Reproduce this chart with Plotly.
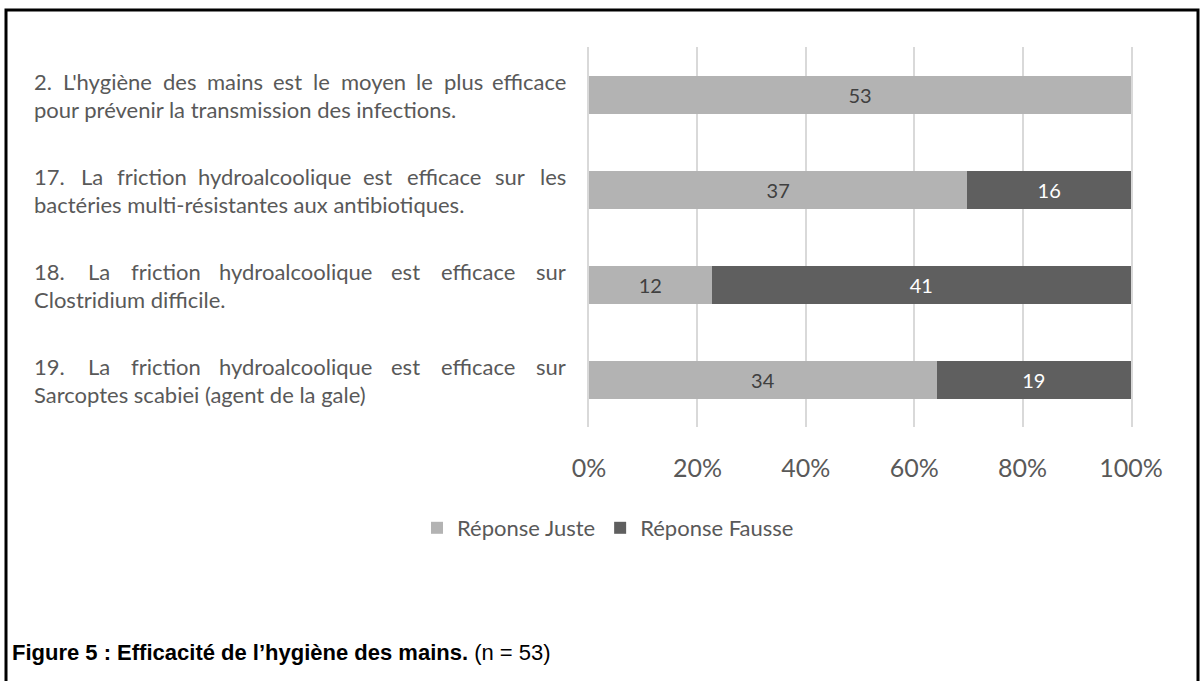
import plotly.graph_objects as go

# ---- data ----
cat_ids = ["Q2", "Q17", "Q18", "Q19"]
label_line1 = [
    "2. L'hygiène des mains est le moyen le plus efficace",
    "17. La friction hydroalcoolique est efficace sur les",
    "18. La friction hydroalcoolique est efficace sur",
    "19. La friction hydroalcoolique est efficace sur",
]
label_line2 = [
    "pour prévenir la transmission des infections.",
    "bactéries multi-résistantes aux antibiotiques.",
    "Clostridium difficile.",
    "Sarcoptes scabiei (agent de la gale)",
]
juste = [53, 37, 12, 34]
fausse = [0, 16, 41, 19]
series_names = ["Réponse Juste", "Réponse Fausse"]
tick_vals = [0, 20, 40, 60, 80, 100]
tick_text = ["0%", "20%", "40%", "60%", "80%", "100%"]
caption_bold = "Figure 5 : Efficacité de l\u2019hygiène des mains."
caption_rest = " (n = 53)"

# ---- layout constants ----
W, H = 1201, 681
ML, MR, MT, MB = 589, 70, 47, 254
PW = W - ML - MR
PH = H - MT - MB
FONT = "Lato, 'Open Sans', sans-serif"
TXT = "#595959"
LABEL_SIZE = 22


def px_to_paper_x(px):
    return (px - ML) / PW


def py_to_paper_y(py):
    return (H - MB - py) / PH


# approximate glyph widths (em) for justification
CW = {
    "i": 0.23, "l": 0.23, "j": 0.23, "'": 0.18, ".": 0.22, ",": 0.22,
    "f": 0.31, "t": 0.33, "r": 0.35, "s": 0.41, "c": 0.45, "e": 0.5,
    "è": 0.5, "é": 0.5, "a": 0.49, "m": 0.8, "w": 0.74, "y": 0.48,
    "v": 0.48, "x": 0.47, "z": 0.44, "(": 0.3, ")": 0.3, "-": 0.34,
    "L": 0.49, "S": 0.51, "C": 0.63,
}


def word_w(w):
    tot = 0
    for ch in w:
        if ch in CW:
            tot += CW[ch]
        elif ch.isdigit():
            tot += 0.58
        elif ch.isupper():
            tot += 0.62
        else:
            tot += 0.53
    return tot * LABEL_SIZE


fig = go.Figure()
colors = ["#b3b3b3", "#5f5f5f"]
text_colors = ["#404040", "#ffffff"]
for name, vals, col, tcol in zip(series_names, [juste, fausse], colors, text_colors):
    fig.add_trace(go.Bar(
        y=cat_ids, x=vals, name=name, orientation="h",
        marker=dict(color=col, line=dict(width=0)),
        text=[str(v) if v else "" for v in vals],
        textposition="inside", insidetextanchor="middle",
        textfont=dict(family=FONT, size=20, color=tcol),
        hoverinfo="skip",
    ))

annotations = []
LEFT, RIGHT = 34, 566
for cid, l1, l2 in zip(cat_ids, label_line1, label_line2):
    words = l1.split(" ")
    widths = [word_w(w) for w in words]
    gap = (RIGHT - LEFT - sum(widths)) / (len(words) - 1)
    pos = LEFT
    for k, (w, ww) in enumerate(zip(words, widths)):
        if k == 0:
            x, anc = pos, "left"
        elif k == len(words) - 1:
            x, anc = RIGHT, "right"
        else:
            x, anc = pos + ww / 2, "center"
        annotations.append(dict(
            x=px_to_paper_x(x), xref="paper", y=cid, yref="y", yshift=13,
            text=w, showarrow=False, xanchor=anc, yanchor="middle",
            font=dict(family=FONT, size=LABEL_SIZE, color=TXT), borderpad=0, borderwidth=0,
        ))
        pos += ww + gap
    annotations.append(dict(
        x=px_to_paper_x(LEFT), xref="paper", y=cid, yref="y", yshift=-15,
        text=l2, showarrow=False, xanchor="left", yanchor="middle",
        font=dict(family=FONT, size=LABEL_SIZE, color=TXT), borderpad=0, borderwidth=0,
    ))

annotations.append(dict(
    x=px_to_paper_x(10), xref="paper", y=py_to_paper_y(652), yref="paper",
    text="<b>" + caption_bold + "</b>" + caption_rest, showarrow=False,
    xanchor="left", yanchor="middle",
    font=dict(family="'Liberation Sans', Arial, sans-serif", size=22, color="#000000"),
))

fig.update_layout(
    width=W, height=H, autosize=False,
    margin=dict(l=ML, r=MR, t=MT, b=MB),
    paper_bgcolor="#ffffff", plot_bgcolor="#ffffff",
    barmode="stack", barnorm="percent", bargap=0.6,
    showlegend=True,
    legend=dict(
        orientation="h", x=px_to_paper_x(608), xanchor="center",
        y=py_to_paper_y(528), yanchor="middle",
        font=dict(family=FONT, size=22, color=TXT), traceorder="normal",
    ),
    annotations=annotations,
    shapes=[dict(
        type="rect", xref="paper", yref="paper",
        x0=px_to_paper_x(6), x1=px_to_paper_x(1198),
        y0=py_to_paper_y(720), y1=py_to_paper_y(10),
        line=dict(color="#000000", width=3), fillcolor="rgba(0,0,0,0)",
    )],
    xaxis=dict(
        range=[0, 100], tickmode="array", tickvals=tick_vals, ticktext=tick_text,
        showgrid=True, gridcolor="#d9d9d9", gridwidth=1.5,
        zeroline=False, showline=False, ticks="",
        ticklabelstandoff=24,
        tickfont=dict(family=FONT, size=25, color=TXT),
        fixedrange=True,
    ),
    yaxis=dict(
        categoryorder="array", categoryarray=cat_ids, autorange="reversed",
        showticklabels=False, showgrid=False, zeroline=False, ticks="",
        showline=True, mirror=True, linecolor="#d9d9d9", linewidth=1.5,
        fixedrange=True,
    ),
)

fig.write_html(
    "out.html",
    config={"displayModeBar": False},
    post_script="document.body.style.margin='0';document.body.style.overflow='hidden';",
)
